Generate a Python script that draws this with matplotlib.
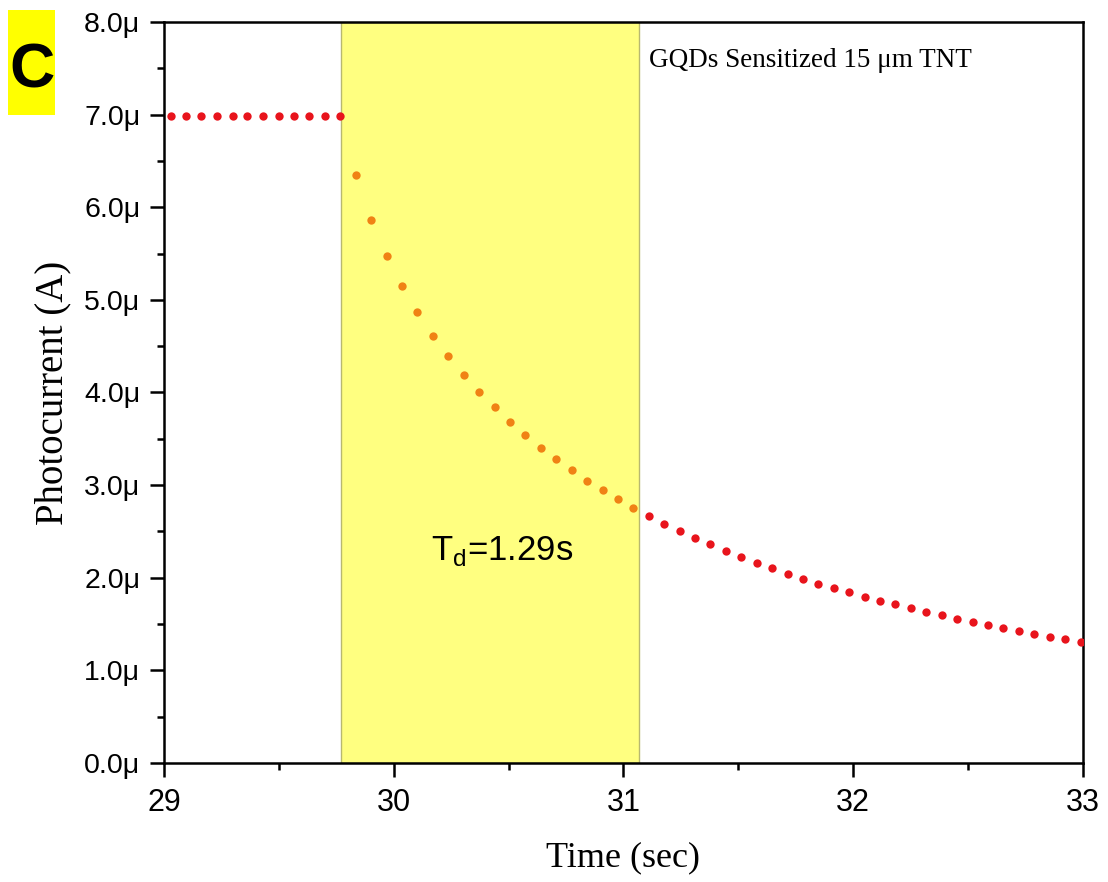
import matplotlib
matplotlib.use('Agg')
import matplotlib.pyplot as plt
from matplotlib.patches import Rectangle
from matplotlib.ticker import MultipleLocator, FuncFormatter

# photocurrent decay, values in microamps
t_dark = [29.029, 29.096, 29.161, 29.231, 29.299, 29.361, 29.431, 29.499,
          29.565, 29.631, 29.701, 29.766]
i_dark = [6.98, 6.98, 6.98, 6.98, 6.98, 6.98, 6.98, 6.98, 6.98, 6.98, 6.98, 6.98]

t_fit = [29.836, 29.901, 29.969, 30.037, 30.101, 30.170, 30.237, 30.304,
         30.372, 30.439, 30.506, 30.573, 30.641, 30.706, 30.775, 30.841,
         30.909, 30.976, 31.043]
i_fit = [6.353, 5.864, 5.478, 5.144, 4.870, 4.614, 4.395, 4.190, 4.006,
         3.841, 3.682, 3.542, 3.405, 3.280, 3.161, 3.049, 2.948, 2.848, 2.757]

t_tail = [31.111, 31.178, 31.246, 31.312, 31.378, 31.446, 31.513, 31.580,
          31.648, 31.715, 31.782, 31.848, 31.915, 31.983, 32.050, 32.116,
          32.183, 32.251, 32.318, 32.386, 32.453, 32.520, 32.586, 32.653,
          32.721, 32.788, 32.856, 32.922, 32.990]
i_tail = [2.667, 2.581, 2.505, 2.430, 2.362, 2.289, 2.225, 2.160, 2.103,
          2.044, 1.990, 1.936, 1.890, 1.843, 1.796, 1.753, 1.714, 1.674,
          1.631, 1.595, 1.558, 1.523, 1.487, 1.455, 1.425, 1.393, 1.364,
          1.336, 1.307]

span = [29.770, 31.067]

red = '#e8141c'
orange = '#f08214'

fig = plt.figure(figsize=(11.08, 8.82), dpi=100)
ax = fig.add_axes([0.148, 0.135, 0.8294, 0.8401])

ax.axvspan(span[0], span[1], facecolor='#ffff80', edgecolor='#b8b870',
           linewidth=1.0, zorder=0)
ax.plot(t_dark, i_dark, 'o', color=red, markersize=6, markeredgewidth=0, zorder=3)
ax.plot(t_tail, i_tail, 'o', color=red, markersize=6, markeredgewidth=0, zorder=3)
ax.plot(t_fit, i_fit, 'o', color=orange, markersize=6, markeredgewidth=0, zorder=3)

ax.set_xlim(29, 33)
ax.set_ylim(0, 8)
ax.xaxis.set_major_locator(MultipleLocator(1))
ax.xaxis.set_minor_locator(MultipleLocator(0.5))
ax.yaxis.set_major_locator(MultipleLocator(1))
ax.yaxis.set_minor_locator(MultipleLocator(0.5))
ax.yaxis.set_major_formatter(FuncFormatter(lambda v, p: '%.1f\u03bc' % v))

for s in ax.spines.values():
    s.set_linewidth(1.8)
ax.tick_params(which='major', direction='out', length=10, width=1.8,
               top=False, right=False)
ax.tick_params(which='minor', direction='out', length=5, width=1.8,
               top=False, right=False)
ax.tick_params(axis='x', which='major', pad=8)
ax.tick_params(axis='y', which='major', pad=7)
for lab in ax.get_yticklabels():
    lab.set_fontfamily('Liberation Sans')
    lab.set_fontsize(20.5)
for lab in ax.get_xticklabels():
    lab.set_fontfamily('Liberation Sans')
    lab.set_fontsize(22)

ax.set_xlabel('Time (sec)', fontsize=26, family='Liberation Serif', labelpad=17)
ax.set_ylabel('Photocurrent (A)', fontsize=28, family='Liberation Serif', labelpad=9)

ax.text(30.47, 2.19, r'T$_\mathregular{d}$=1.29s', fontsize=25,
        family='Liberation Sans', ha='center', va='baseline')
ax.text(31.11, 7.515, 'GQDs Sensitized 15 \u03bcm TNT', fontsize=19.5,
        family='Liberation Serif', ha='left', va='baseline')

fig.add_artist(Rectangle((0.0072, 0.8696), 0.0424, 0.119, transform=fig.transFigure,
                         facecolor='#ffff00', edgecolor='none'))
fig.text(0.029, 0.9195, 'C', fontsize=45, fontweight='bold',
         family='Liberation Sans', ha='center', va='center')

plt.savefig('out.png', dpi=100)
